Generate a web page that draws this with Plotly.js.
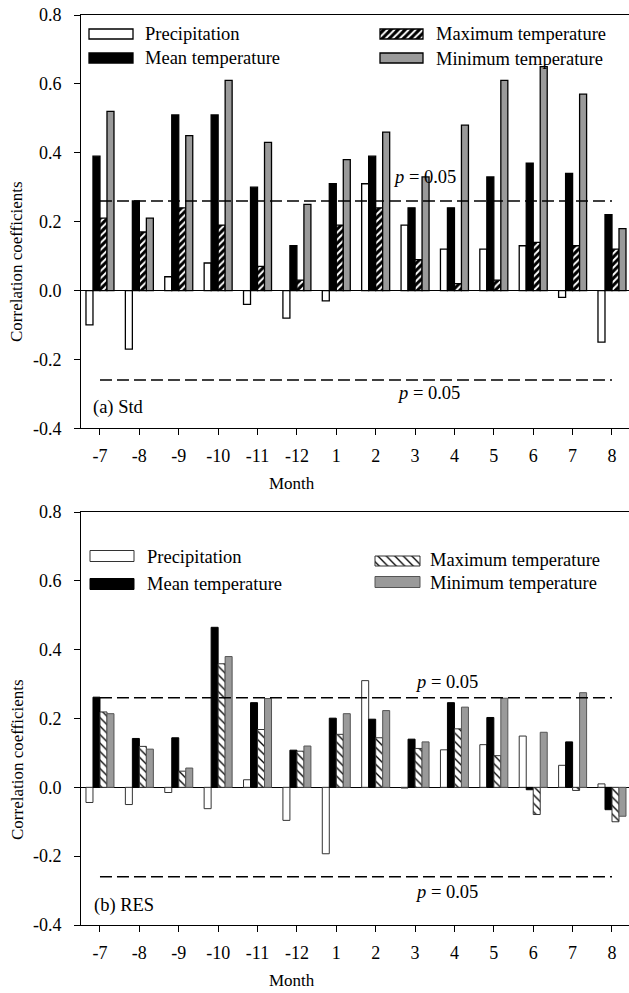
<!DOCTYPE html>
<html>
<head>
<meta charset="utf-8">
<script src="https://cdn.plot.ly/plotly-3.0.1.min.js"></script>
<style>html,body{margin:0;padding:0;background:#fff;overflow:hidden}#chart{width:629px;height:993px}</style>
</head>
<body>
<div id="chart"></div>
<script>
// ---- data ----
var months = ['-7','-8','-9','-10','-11','-12','1','2','3','4','5','6','7','8'];
var seriesNames = ['Precipitation','Mean temperature','Maximum temperature','Minimum temperature'];

// (a) Std
var precipStd = [-0.10, -0.17, 0.04, 0.08, -0.04, -0.08, -0.03, 0.31, 0.19, 0.12, 0.12, 0.13, -0.02, -0.15];
var meanStd   = [0.39, 0.26, 0.51, 0.51, 0.30, 0.13, 0.31, 0.39, 0.24, 0.24, 0.33, 0.37, 0.34, 0.22];
var maxStd    = [0.21, 0.17, 0.24, 0.19, 0.07, 0.03, 0.19, 0.24, 0.09, 0.02, 0.03, 0.14, 0.13, 0.12];
var minStd    = [0.52, 0.21, 0.45, 0.61, 0.43, 0.25, 0.38, 0.46, 0.33, 0.48, 0.61, 0.65, 0.57, 0.18];

// (b) RES
var precipRes = [-0.044, -0.05, -0.015, -0.062, 0.022, -0.096, -0.193, 0.31, -0.002, 0.109, 0.124, 0.149, 0.064, 0.01];
var meanRes   = [0.262, 0.142, 0.144, 0.465, 0.246, 0.108, 0.201, 0.198, 0.14, 0.246, 0.203, -0.007, 0.132, -0.065];
var maxRes    = [0.219, 0.119, 0.047, 0.359, 0.168, 0.105, 0.154, 0.144, 0.113, 0.17, 0.092, -0.079, -0.009, -0.10];
var minRes    = [0.214, 0.111, 0.056, 0.38, 0.258, 0.12, 0.214, 0.223, 0.132, 0.233, 0.259, 0.16, 0.275, -0.084];

var sigLevel = 0.26;
var yTickVals = [-0.4, -0.2, 0.0, 0.2, 0.4, 0.6, 0.8];
var yTickText = ['-0.4', '-0.2', '0.0', '0.2', '0.4', '0.6', '0.8'];

// ---- layout helpers ----
var W = 629, H = 993;
function px(x){ return x / W; }
function py(y){ return 1 - y / H; }
var FONT = 'Liberation Serif, Times New Roman, serif';

var styles = {
  a: [
    {color:'#ffffff', line:{color:'#000', width:1.3}},
    {color:'#000000', line:{color:'#000', width:1.3}},
    {color:'#000000', line:{color:'#000', width:1.3}, pattern:{shape:'/', fgcolor:'#ffffff', bgcolor:'#000000', size:5, solidity:0.4, fillmode:'replace'}},
    {color:'#9a9a9a', line:{color:'#000', width:1.3}}
  ],
  b: [
    {color:'#ffffff', line:{color:'#333', width:1}},
    {color:'#000000', line:{color:'#000', width:1}},
    {color:'#ffffff', line:{color:'#333', width:1}, pattern:{shape:'\\', fgcolor:'#000000', bgcolor:'#ffffff', size:6, solidity:0.22, fillmode:'replace'}},
    {color:'#9a9a9a', line:{color:'#555', width:1}}
  ]
};

var traces = [];
function addPanel(vals, st, xa, ya){
  vals.forEach(function(v, i){
    traces.push({type:'bar', x:months, y:v, name:seriesNames[i], xaxis:xa, yaxis:ya,
      marker:st[i], showlegend:false, hoverinfo:'skip'});
  });
  [sigLevel, -sigLevel].forEach(function(s){
    traces.push({type:'scatter', mode:'lines', x:[months[0], months[months.length-1]], y:[s, s],
      xaxis:xa, yaxis:ya, line:{color:'#000', width:1.5, dash:'12px,5px'}, showlegend:false, hoverinfo:'skip'});
  });
}
addPanel([precipStd, meanStd, maxStd, minStd], styles.a, 'x', 'y');
addPanel([precipRes, meanRes, maxRes, minRes], styles.b, 'x2', 'y2');

// legend keys (pixel-space overlay axis)
var legendKeys = [
  {st:styles.a[0], x0:89,  x1:133, cy:34,  h:10, tx:143, ty:34,  name:seriesNames[0]},
  {st:styles.a[1], x0:89,  x1:133, cy:58,  h:10, tx:143, ty:58,  name:seriesNames[1]},
  {st:styles.a[2], x0:380, x1:423, cy:34,  h:10, tx:434, ty:34,  name:seriesNames[2]},
  {st:styles.a[3], x0:380, x1:423, cy:58,  h:10, tx:434, ty:59,  name:seriesNames[3]},
  {st:styles.b[0], x0:90,  x1:134, cy:556, h:11, tx:145, ty:557, name:seriesNames[0]},
  {st:styles.b[1], x0:90,  x1:134, cy:584, h:11, tx:145, ty:584, name:seriesNames[1]},
  {st:styles.b[2], x0:375, x1:420, cy:561, h:10, tx:428, ty:560, name:seriesNames[2]},
  {st:styles.b[3], x0:375, x1:420, cy:582, h:11, tx:428, ty:583, name:seriesNames[3]}
];
var annotations = [];
legendKeys.forEach(function(k){
  traces.push({type:'bar', orientation:'h', x:[k.x1-k.x0], base:[k.x0], y:[k.cy], width:k.h, offset:-k.h/2,
    xaxis:'x3', yaxis:'y3', marker:k.st, showlegend:false, hoverinfo:'skip'});
  annotations.push({xref:'paper', yref:'paper', x:px(k.tx), y:py(k.ty), xanchor:'left', yanchor:'middle',
    text:k.name, showarrow:false, font:{family:FONT, size:18.5, color:'#000'}});
});

function ann(text, x, y, opts){
  var a = {xref:'paper', yref:'paper', x:px(x), y:py(y), text:text, showarrow:false,
    xanchor:'center', yanchor:'middle', font:{family:FONT, size:18.5, color:'#000'}};
  for (var k in (opts||{})) a[k] = opts[k];
  annotations.push(a);
}
var titleFont = {family:FONT, size:17, color:'#000'};
ann('Correlation coefficients', 17, 262, {textangle:-90, font:titleFont});
ann('Correlation coefficients', 17, 760, {textangle:-90, font:titleFont});
ann('Month', 292, 483, {font:titleFont});
ann('Month', 292, 980, {font:titleFont});
ann('(a) Std', 91, 407, {xanchor:'left'});
ann('(b) RES', 92, 905, {xanchor:'left'});
ann('<i>p</i> = 0.05', 424, 177);
ann('<i>p</i> = 0.05', 428, 393);
ann('<i>p</i> = 0.05', 447, 682);
ann('<i>p</i> = 0.05', 447, 892);

var xRange = [-0.482, 13.432];
function xax(anchor){
  return {domain:[px(81), 1], range:xRange, type:'category', anchor:anchor,
    showline:true, mirror:true, linecolor:'#000', linewidth:1,
    ticks:'outside', ticklen:6, tickcolor:'#000', tickwidth:1,
    showgrid:false, zeroline:false, fixedrange:true,
    tickfont:{family:FONT, size:18, color:'#000'}, ticklabelstandoff:5};
}
function yax(domain, anchor){
  return {domain:domain, range:[-0.4, 0.8], anchor:anchor,
    tickvals:yTickVals, ticktext:yTickText,
    showline:true, linecolor:'#000', linewidth:1,
    ticks:'outside', ticklen:6, tickcolor:'#000', tickwidth:1,
    showgrid:false, zeroline:true, zerolinecolor:'#000', zerolinewidth:1, fixedrange:true,
    tickfont:{family:FONT, size:18, color:'#000'}, ticklabelstandoff:9};
}

var layout = {
  width:W, height:H, margin:{l:0, r:0, t:0, b:0},
  paper_bgcolor:'#fff', plot_bgcolor:'rgba(0,0,0,0)',
  barmode:'group', bargap:0.289, bargroupgap:0,
  showlegend:false,
  font:{family:FONT, color:'#000'},
  xaxis: xax('y'),
  yaxis: yax([py(428.3), py(15)], 'x'),
  xaxis2: xax('y2'),
  yaxis2: yax([py(925), py(512)], 'x2'),
  xaxis3: {domain:[0,1], range:[0, W], visible:false, anchor:'y3', fixedrange:true},
  yaxis3: {domain:[0,1], range:[H, 0], visible:false, anchor:'x3', fixedrange:true},
  annotations: annotations
};

Plotly.newPlot('chart', traces, layout, {staticPlot:true, displayModeBar:false});
</script>
</body>
</html>
